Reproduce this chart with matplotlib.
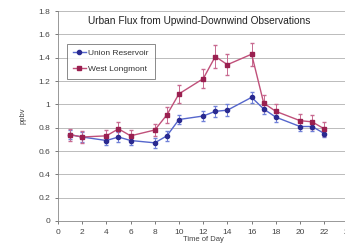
import numpy as np
import matplotlib
matplotlib.use("Agg")
import matplotlib.pyplot as plt

plt.rcParams["font.family"] = ["Liberation Sans", "DejaVu Sans"]

hours = [1, 2, 4, 5, 6, 8, 9, 10, 12, 13, 14, 16, 17, 18, 20, 21, 22]
union = [0.74, 0.72, 0.69, 0.72, 0.69, 0.67, 0.73, 0.87, 0.90, 0.94, 0.95, 1.06, 0.96, 0.89, 0.81, 0.81, 0.75]
union_err = [0.04, 0.04, 0.04, 0.04, 0.04, 0.04, 0.04, 0.04, 0.045, 0.05, 0.05, 0.05, 0.04, 0.04, 0.04, 0.04, 0.03]
longmont = [0.74, 0.72, 0.73, 0.79, 0.73, 0.78, 0.91, 1.09, 1.22, 1.41, 1.34, 1.43, 1.01, 0.94, 0.86, 0.85, 0.79]
longmont_err = [0.05, 0.05, 0.05, 0.06, 0.05, 0.05, 0.07, 0.08, 0.08, 0.10, 0.09, 0.10, 0.07, 0.06, 0.06, 0.06, 0.06]

fig = plt.figure(figsize=(3.45, 2.45), dpi=100)
ax = fig.add_axes([0.168, 0.098, 0.842, 0.857])

# error bars first, then the lines with markers (used for the legend)
ax.errorbar(hours, union, yerr=union_err, fmt="none", ecolor="#7080d8",
            elinewidth=0.7, capsize=1.5)
ax.errorbar(hours, longmont, yerr=longmont_err, fmt="none", ecolor="#c86a90",
            elinewidth=0.7, capsize=1.5)
ax.plot(hours, union, color="#5566cc", marker="o", markersize=3,
        markerfacecolor="#2a2a90", markeredgecolor="#2a2a90", linewidth=1,
        label="Union Reservoir")
ax.plot(hours, longmont, color="#c0507a", marker="s", markersize=3.5,
        markerfacecolor="#9a2050", markeredgecolor="#9a2050", linewidth=1,
        label="West Longmont")

ax.set_xlim(0, 24)
ax.set_ylim(0, 1.8)
ax.set_xticks(np.arange(0, 25, 2))
ax.set_yticks(np.arange(0, 1.81, 0.2))
ax.set_yticklabels(["0", "0.2", "0.4", "0.6", "0.8", "1", "1.2", "1.4", "1.6", "1.8"])
ax.tick_params(labelsize=6, colors="#444444", length=2, width=0.5)
ax.grid(axis="y", color="#bbbbbb", linewidth=0.7)
ax.set_axisbelow(True)
for s in ["top", "right"]:
    ax.spines[s].set_visible(False)
for s in ["left", "bottom"]:
    ax.spines[s].set_color("#888888")
    ax.spines[s].set_linewidth(0.6)

ax.set_title("Urban Flux from Upwind-Downwind Observations", fontsize=7.3,
             color="#222222", y=0.9, x=0.485)
ax.set_xlabel("Time of Day", fontsize=5.5, color="#444444", labelpad=0)
ax.set_ylabel("ppbv", fontsize=5.5, color="#444444", labelpad=9)

leg = ax.legend(loc="upper left", bbox_to_anchor=(0.03, 0.845), fontsize=6,
                frameon=True, fancybox=False, borderpad=0.7, handlelength=1.6,
                handletextpad=0.3, labelspacing=1.0, borderaxespad=0)
leg.get_frame().set_edgecolor("#555555")
leg.get_frame().set_linewidth(0.6)
for t in leg.get_texts():
    t.set_color("#333333")

fig.savefig("out.png", dpi=100)
